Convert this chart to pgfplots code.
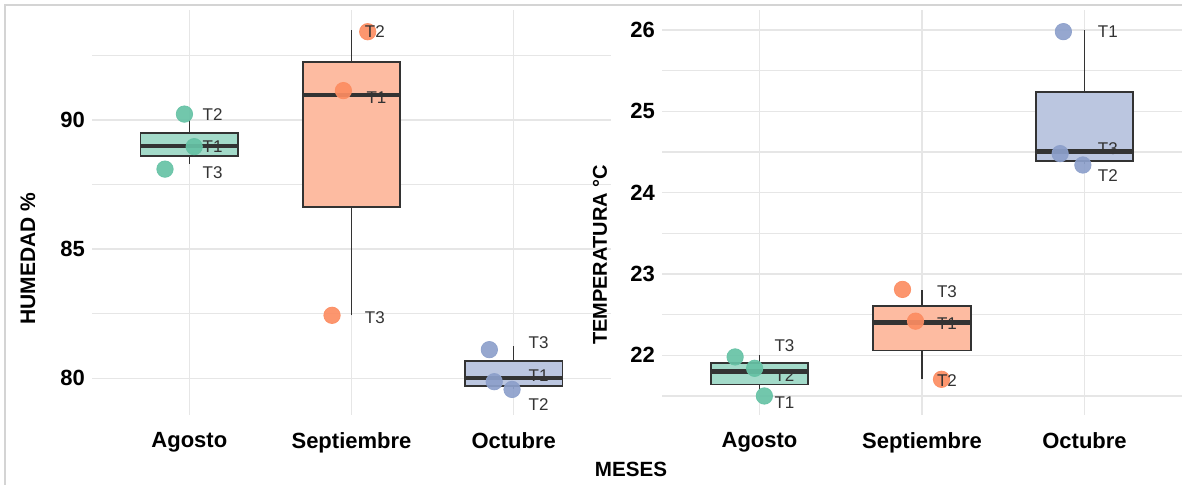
\documentclass[border=0pt]{standalone}
\usepackage{fontspec}
\setmainfont{Liberation Sans}
\usepackage{pgfplots}
\pgfplotsset{compat=1.18}

\definecolor{verde}{HTML}{66C2A5}
\definecolor{naranja}{HTML}{FC8D62}
\definecolor{azul}{HTML}{8DA0CB}
\definecolor{rejilla}{HTML}{E6E6E6}
\definecolor{borde}{HTML}{333333}
\definecolor{etiq}{HTML}{333333}
\definecolor{marco}{HTML}{D4D4D4}

\pgfplotsset{
  panel/.style={
    scale only axis,
    height=202.5pt,
    anchor=south west,
    xmin=-0.6, xmax=2.6,
    xtick={0,1,2},
    xticklabels={Agosto,Septiembre,Octubre},
    axis line style={draw=none},
    major tick length=0pt, minor tick length=0pt,
    grid=both,
    major grid style={rejilla, line width=0.7pt},
    minor grid style={rejilla, line width=0.7pt},
    tick label style={font=\fontsize{11}{13}\selectfont\bfseries},
    /pgf/number format/assume math mode=true,
    xticklabel style={yshift=-5pt},
    clip=false,
  },
  puntos/.style={only marks, mark=*, mark size=4.1pt,
    mark options={draw=#1, fill=#1, fill opacity=0.92, draw opacity=0.92}},
  rotulos/.style={draw=none, mark=none,
    nodes near coords, point meta=explicit symbolic,
    nodes near coords style={anchor=west, inner sep=0pt,
      font=\fontsize{8.5}{10}\selectfont, text=etiq}},
}

% Diagrama de caja: #1 borde izq., #2 borde der., #3 centro,
% #4 bigote inf., #5 Q1, #6 mediana, #7 Q3, #8 bigote sup., #9 color
\newcommand{\caja}[9]{%
  \addplot[borde, line width=0.7pt] coordinates {(#3,#7) (#3,#8)};
  \addplot[borde, line width=0.7pt] coordinates {(#3,#4) (#3,#5)};
  \addplot[draw=borde, fill=#9!60, line width=0.8pt, line cap=rect]
    coordinates {(#1,#5) (#2,#5) (#2,#7) (#1,#7) (#1,#5)};
  \addplot[borde, line width=2.2pt] coordinates {(#1,#6) (#2,#6)};
}

% Humedad: tratamientos T1-T3 por mes (x con desplazamiento)
\pgfplotstableread{
x     y      lab
-0.03 90.23  T2
 0.03 88.97  T1
-0.15 88.10  T3
}\humAgo
\pgfplotstableread{
x     y      lab
1.10  93.42  T2
0.95  91.14  T1
0.88  82.44  T3
}\humSep
\pgfplotstableread{
x     y      lab
1.85  81.11  T3
1.88  79.87  T1
1.99  79.57  T2
}\humOct
\pgfplotstableread{
x     y      lab
0.08  90.23  T2
0.08  88.97  T1
0.08  87.98  T3
1.08  93.42  T2
1.09  90.88  T1
1.08  82.33  T3
2.09  81.39  T3
2.09  80.10  T1
2.09  79.00  T2
}\humLab

% Temperatura
\pgfplotstableread{
x     y      lab
-0.15 21.98  T3
-0.03 21.84  T2
 0.03 21.50  T1
}\temAgo
\pgfplotstableread{
x     y      lab
0.88  22.81  T3
0.96  22.42  T1
1.12  21.705 T2
}\temSep
\pgfplotstableread{
x     y      lab
1.87  25.98  T1
1.85  24.48  T3
1.99  24.34  T2
}\temOct
\pgfplotstableread{
x     y      lab
0.09  22.12  T3
0.09  21.75  T2
0.09  21.42  T1
1.09  22.78  T3
1.09  22.39  T1
1.09  21.69  T2
2.08  25.98  T1
2.08  24.54  T3
2.08  24.21  T2
}\temLab

\begin{document}
\begin{tikzpicture}
% marco exterior
\draw[marco, line width=1.2pt] (2.5pt,-5pt) -- (2.5pt,239.5pt) -- (600pt,239.5pt);

\begin{axis}[panel, at={(46pt,34.5pt)}, width=259.5pt,
  ymin=78.58, ymax=94.26,
  ytick={80,85,90}, minor ytick={82.5,87.5,92.5}]
  \caja{-0.3}{0.3}{0}{88.3}{88.6}{89.0}{89.5}{90.0}{verde}
  \caja{0.7}{1.3}{1}{82.44}{86.64}{90.98}{92.24}{93.49}{naranja}
  \caja{1.7}{2.3}{2}{79.6}{79.71}{80.01}{80.66}{81.25}{azul}
  \addplot[puntos=verde] table[x=x, y=y] {\humAgo};
  \addplot[puntos=naranja] table[x=x, y=y] {\humSep};
  \addplot[puntos=azul] table[x=x, y=y] {\humOct};
  \addplot[rotulos] table[x=x, y=y, meta=lab] {\humLab};
\end{axis}

\begin{axis}[panel, at={(331pt,34.5pt)}, width=260pt,
  ymin=21.266, ymax=26.246,
  ytick={22,23,24,25,26}, minor ytick={21.5,22.5,23.5,24.5,25.5}]
  \caja{-0.3}{0.3}{0}{21.57}{21.64}{21.80}{21.905}{22.0}{verde}
  \caja{0.7}{1.3}{1}{21.71}{22.06}{22.405}{22.61}{22.80}{naranja}
  \caja{1.7}{2.3}{2}{24.35}{24.387}{24.506}{25.235}{26.0}{azul}
  \addplot[puntos=verde] table[x=x, y=y] {\temAgo};
  \addplot[puntos=naranja] table[x=x, y=y] {\temSep};
  \addplot[puntos=azul] table[x=x, y=y] {\temOct};
  \addplot[rotulos] table[x=x, y=y, meta=lab] {\temLab};
\end{axis}

% rótulos de los ejes
\node[rotate=90, font=\fontsize{10.5}{12}\selectfont\bfseries] at (14pt,112.75pt) {HUMEDAD \%};
\node[rotate=90, font=\fontsize{10}{12}\selectfont\bfseries] at (300pt,114.5pt) {TEMPERATURA °C};
\node[font=\fontsize{10.3}{12}\selectfont\bfseries] at (315.5pt,7.5pt) {MESES};

\pgfresetboundingbox
\path[use as bounding box] (0,0) rectangle (591pt,242pt);
\end{tikzpicture}
\end{document}
